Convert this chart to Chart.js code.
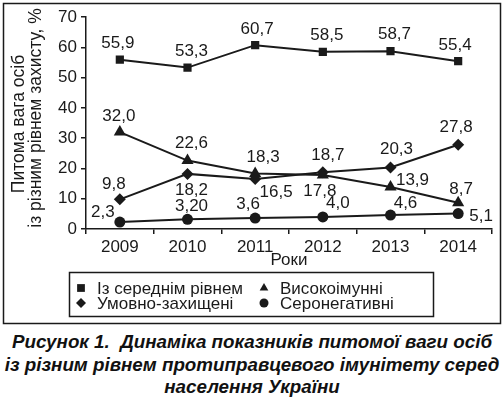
<!DOCTYPE html>
<html>
<head>
<meta charset="utf-8">
<script src="https://cdn.jsdelivr.net/npm/chart.js@4.4.1/dist/chart.umd.min.js"></script>
<style>
  body { margin: 0; background: #fff; }
  #wrap { position: relative; width: 504px; height: 398px; }
  #caption {
    position: absolute; left: 0; top: 331px; width: 504px;
    font: italic bold 18.8px "Liberation Sans", Arial, sans-serif;
    line-height: 22.5px; text-align: center; color: #111; white-space: pre;
  }
</style>
</head>
<body>
<div id="wrap">
  <canvas id="chart" width="504" height="328"></canvas>
  <div id="caption">Рисунок 1.  Динаміка показників питомої ваги осіб
із різним рівнем протиправцевого імунітету серед
населення України</div>
</div>
<script>
// chart data
const years = ['2009', '2010', '2011', '2012', '2013', '2014'];
const medium = [55.9, 53.3, 60.7, 58.5, 58.7, 55.4];
const highImmune = [32.0, 22.6, 18.3, 17.8, 13.9, 8.7];
const conditional = [9.8, 18.2, 16.5, 18.7, 20.3, 27.8];
const seronegative = [2.3, 3.2, 3.6, 4.0, 4.6, 5.1];
const seronegDecimals = [1, 2, 1, 1, 1, 1];
const yTicks = [0, 10, 20, 30, 40, 50, 60, 70];
const yTitle = ['Питома вага осіб', 'із різним рівнем захисту, %'];
const xTitle = 'Роки';

// where each value label sits relative to its point (dx, dy)
const labelOffsets = [
  [[-2, -16], [4, -16], [2, -16], [4, -17], [4, -17], [-3, -16]],
  [[-1, -16], [4, -17], [8, -16], [-3, 16], [22, -7], [3, -13]],
  [[-6, -15], [4, 16], [21, 13], [5, -17], [6, -18], [-2, -17]],
  [[-17, -10], [4, -13], [-7, -14], [15, -14], [15, -12], [23, 3]]
];
// legend marker sizes (smaller than the ones on the lines)
const legendRadius = [5.5, 5, 5, 4.5];

const ink = '#1a1a1a';
const font = '"Liberation Sans", Arial, sans-serif';

function fmt(v, d) {
  return v.toFixed(d).replace('.', ',');
}

const extras = {
  id: 'extras',
  afterDraw(chart) {
    const ctx = chart.ctx;
    ctx.save();
    // outer frame
    ctx.strokeStyle = ink;
    ctx.lineWidth = 1.5;
    ctx.strokeRect(3.5, 3.5, 497, 320);

    ctx.fillStyle = ink;
    ctx.font = '17px ' + font;
    ctx.textAlign = 'center';
    ctx.textBaseline = 'middle';

    // value labels
    chart.data.datasets.forEach((ds, i) => {
      const meta = chart.getDatasetMeta(i);
      meta.data.forEach((pt, j) => {
        const d = i === 3 ? seronegDecimals[j] : 1;
        const off = labelOffsets[i][j];
        ctx.fillText(fmt(ds.data[j], d), pt.x + off[0], pt.y + off[1]);
      });
    });

    // axis titles
    const area = chart.chartArea;
    ctx.fillText(xTitle, (area.left + area.right) / 2, 260);
    ctx.font = '17.5px ' + font;
    ctx.save();
    ctx.translate(19, 124);
    ctx.rotate(-Math.PI / 2);
    ctx.fillText(yTitle[0], 0, 0);
    ctx.restore();
    ctx.save();
    ctx.translate(36, 118);
    ctx.rotate(-Math.PI / 2);
    ctx.fillText(yTitle[1], 0, 0);
    ctx.restore();

    // legend box
    ctx.font = '17px ' + font;
    ctx.strokeRect(69.5, 272.5, 364, 44);
    const cols = [81, 264];
    const rows = [288, 303];
    const order = [0, 2, 1, 3]; // medium, conditional | high, seroneg
    ctx.textAlign = 'left';
    order.forEach((dsIndex, k) => {
      const ds = chart.data.datasets[dsIndex];
      const x = cols[Math.floor(k / 2)];
      const y = rows[k % 2];
      ctx.fillStyle = ink;
      Chart.helpers.drawPoint(ctx, {
        pointStyle: ds.pointStyle,
        radius: legendRadius[dsIndex],
        rotation: 0,
        borderWidth: 0
      }, x, y);
      ctx.fillText(ds.label, x + 16, y + 1);
    });
    ctx.restore();
  }
};

function series(label, data, style, radius) {
  return {
    label: label,
    data: data,
    borderColor: ink,
    backgroundColor: ink,
    borderWidth: 2,
    pointStyle: style,
    pointRadius: radius,
    pointBorderWidth: 0,
    pointBackgroundColor: ink,
    tension: 0
  };
}

const chart = new Chart(document.getElementById('chart'), {
  type: 'line',
  data: {
    labels: years,
    datasets: [
      series('Із середнім рівнем', medium, 'rect', 5.8),
      series('Високоімунні', highImmune, 'triangle', 7),
      series('Умовно-захищені', conditional, 'rectRot', 6),
      series('Серонегативні', seronegative, 'circle', 5.5)
    ]
  },
  options: {
    responsive: false,
    animation: false,
    layout: { padding: { left: 0, right: 12, top: 17, bottom: 69 } },
    plugins: {
      legend: { display: false },
      tooltip: { enabled: false }
    },
    scales: {
      x: {
        offset: true,
        afterFit(scale) { scale.height = 30; },
        grid: {
          offset: true,
          drawOnChartArea: false,
          tickLength: 5,
          color: ink,
          lineWidth: 1.5
        },
        border: { color: ink, width: 1.5 },
        ticks: { color: ink, padding: 3, font: { family: font, size: 17 } }
      },
      y: {
        min: 0,
        max: 70,
        afterFit(scale) { scale.width = 86; },
        afterBuildTicks(scale) { scale.ticks = yTicks.map(v => ({ value: v })); },
        grid: {
          drawOnChartArea: false,
          tickLength: 5,
          color: ink,
          lineWidth: 1.5
        },
        border: { color: ink, width: 1.5 },
        ticks: { color: ink, padding: 4, font: { family: font, size: 17 } }
      }
    }
  },
  plugins: [extras]
});
</script>
</body>
</html>
